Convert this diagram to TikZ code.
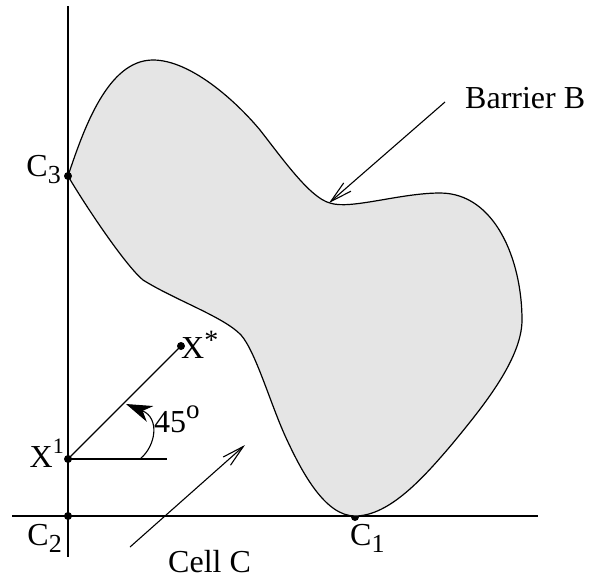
\documentclass[tikz,border=0pt]{standalone}
\usepackage{fontspec}
\setmainfont{Liberation Serif}
\usetikzlibrary{arrows.meta}
\newcommand{\lowsub}[1]{\raisebox{-7pt}{\fontsize{26}{26}\selectfont #1}}
\newcommand{\highsup}[2]{\raisebox{#2}{\fontsize{22}{22}\selectfont #1}}
\begin{document}
\begin{tikzpicture}[x=1pt,y=-1pt,
  axis/.style={line width=1.1pt},
  edge/.style={line width=1.1pt},
  dot/.style={circle,fill=black,inner sep=0pt,minimum size=8pt},
  lab/.style={inner sep=0pt,font=\fontsize{32}{36}\selectfont},
  barb/.style={line width=1.1pt,-{Straight Barb[length=22pt,width=11pt,line width=1.1pt]}},
  blob/.style={fill=black!10,draw=black,line width=1.2pt}]
\useasboundingbox (0,0) rectangle (594,582);
% axes
\coordinate (vtop) at (68,6);
\coordinate (vbot) at (68,557);
\coordinate (hl) at (12,516);
\coordinate (hr) at (538,516);
\draw[axis] (vtop) -- (vbot);
\draw[axis] (hl) -- (hr);
% C1 dot (partly hidden by the barrier)
\node[dot] (c1) at (355,517) {};
% barrier
\draw[blob] (68,176)
  .. controls (84,128) and (108,60) .. (153,60)
  .. controls (190,60) and (235,100) .. (260,130)
  .. controls (282,158) and (310,198) .. (330,203)
  .. controls (350,210) and (400,193) .. (440,193)
  .. controls (495,193) and (522,260) .. (522,320)
  .. controls (522,360) and (480,410) .. (453,443)
  .. controls (425,476) and (390,516) .. (355,516)
  .. controls (325,516) and (302,472) .. (287,440)
  .. controls (271,406) and (256,352) .. (241,335)
  .. controls (224,317) and (175,300) .. (143,280)
  .. controls (125,265) and (85,205) .. (68,176) -- cycle;
% dots
\node[dot] (c3) at (68,176) {};
\node[dot] (c2) at (68,516) {};
\node[dot] (x1) at (68,459) {};
\node[dot] (xs) at (181,346) {};
% lines from X1
\coordinate (hend) at (167,459);
\draw[edge] (x1.center) -- (xs.center);
\draw[edge] (x1.center) -- (hend);
% angle arc
\coordinate (arcs) at (140,459);
\coordinate (arce) at (126,404);
\draw[edge,-{Stealth[length=26pt,width=17pt,inset=8pt]}] (arcs) .. controls (156,446) and (160,418) .. (arce);
% arrows
\coordinate (bstart) at (445,102);
\coordinate (btip) at (329,203);
\draw[barb] (bstart) -- (btip);
\coordinate (cstart) at (130,547);
\coordinate (ctip) at (245,445);
\draw[barb] (cstart) -- (ctip);
% labels
\node[lab,anchor=base east] (lc3) at (61,176) {C\lowsub{3}};
\node[lab,anchor=base east] (lc2) at (62,545) {C\lowsub{2}};
\node[lab,anchor=base west] (lc1) at (350,545) {C\lowsub{1}};
\node[lab,anchor=base east] (lx1) at (64,467) {X\highsup{1}{14pt}};
\node[lab,anchor=base west] (lxs) at (181,358) {X\highsup{\fontsize{28}{28}\selectfont *}{9pt}};
\node[lab,anchor=base west] (l45) at (154,432) {45\highsup{\fontsize{27}{27}\selectfont o}{14pt}};
\node[lab,anchor=base west] (lb) at (465,108) {Barrier B};
\node[lab,anchor=base west] (lc) at (168,572) {Cell C};
\end{tikzpicture}
\end{document}
